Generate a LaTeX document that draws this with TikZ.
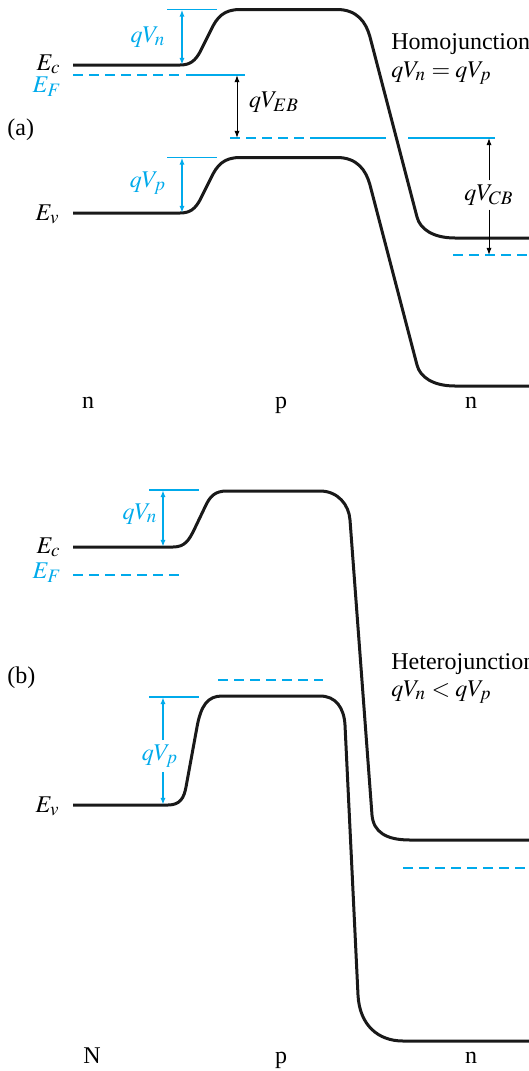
\documentclass[tikz,border=0pt]{standalone}
\usepackage{mathptmx}
\usepackage{fontspec}
\setmainfont{Liberation Serif}
\DeclareMathSizes{12}{12}{9.5}{7.5}
\usetikzlibrary{arrows.meta, positioning}
\definecolor{bandblue}{RGB}{0,170,235}

\begin{document}
\begin{tikzpicture}[x=0.5pt, y=-0.5pt, >={Latex[length=3.6pt,width=2.6pt]}, font=\fontsize{12}{14}\selectfont]
    % Styles for the band diagram
    \tikzstyle{band} = [line width=1.5pt, black!90]
    \tikzstyle{level} = [line width=0.8pt, bandblue]
    \tikzstyle{fermi} = [level, dash pattern=on 5pt off 3pt]
    \tikzstyle{bluearrow} = [<->, line width=0.8pt, bandblue]
    \tikzstyle{blackarrow} = [line width=0.5pt, black]
    \tikzstyle{lbl} = [inner sep=0pt]

    \useasboundingbox (0,0) rectangle (529,1071);

    % (a) Homojunction bands
    \draw[band] (73,65) -- (180,65) .. controls (190,65) and (195,61) .. (200,52) -- (211,30) .. controls (217,17) and (224,9.5) .. (240,9.5) -- (337,9.5) .. controls (357,9.5) and (366,22) .. (370,37) -- (417,217) .. controls (420,229) and (433,238) .. (455,238) -- (529,238);
    \draw[band] (73,213) -- (180,213) .. controls (190,213) and (195,209) .. (200,200) -- (211,178) .. controls (217,165) and (224,157.5) .. (240,157.5) -- (337,157.5) .. controls (357,157.5) and (366,170) .. (370,185) -- (417,365) .. controls (420,377) and (433,386) .. (455,386) -- (529,386);

    % (a) levels
    \draw[level] (167,9.5) -- (217,9.5);
    \draw[fermi] (73,75) -- (180,75);
    \draw[level] (186,75) -- (245,75);
    \draw[fermi] (230,138) -- (305,138);
    \draw[level] (310,138) -- (386,138);
    \draw[level] (408,138) -- (495,138);
    \draw[fermi] (453,255) -- (529,255);
    \draw[level] (167,157.5) -- (217,157.5);

    % (a) labels
    \node[lbl, anchor=base east] (ecA) at (61,70) {$E_c$};
    \node[lbl, anchor=base east, text=bandblue] (efA) at (62,92) {$E_F$};
    \node[lbl, anchor=base west] (labA) at (7,135) {(a)};
    \node[lbl, anchor=base east] (evA) at (60,220) {$E_v$};
    \node[lbl, text=bandblue] (vnA) at (148,37) {$qV_n$};
    \node[lbl, text=bandblue] (vpA) at (148,183) {$qV_p$};
    \node[lbl] (vebA) at (274,102) {$qV_{EB}$};
    \node[lbl, anchor=base west] (homo) at (391,49) {Homojunction};
    \node[lbl, anchor=base west] (homoeq) at (391,77) {$qV_n = qV_p$};
    \node[lbl, inner sep=2pt] (vcbA) at (489,195) {$qV_{CB}$};
    \node[lbl, anchor=base] (nA1) at (88,408) {n};
    \node[lbl, anchor=base] (pA) at (281,408) {p};
    \node[lbl, anchor=base] (nA2) at (471,408) {n};

    % (a) arrows
    \coordinate (vnA top) at (182,9.5);
    \coordinate (vnA bot) at (182,65);
    \coordinate (vpA top) at (182,157.5);
    \coordinate (vpA bot) at (182,213);
    \coordinate (ebA top) at (237,75);
    \coordinate (ebA bot) at (237,138);
    \coordinate (cbA top) at (489,138);
    \coordinate (cbA bot) at (489,255);
    \draw[bluearrow] (vnA top) -- (vnA bot);
    \draw[bluearrow] (vpA top) -- (vpA bot);
    \draw[blackarrow, <->] (ebA top) -- (ebA bot);
    \draw[blackarrow, ->] (vcbA) -- (cbA top);
    \draw[blackarrow, ->] (vcbA) -- (cbA bot);

    % (b) Heterojunction bands
    \draw[band] (73,547) -- (173,547) .. controls (185,547) and (189,540) .. (194,530) -- (205,507) .. controls (210,496) and (215,491) .. (227,491) -- (320,491) .. controls (338,491) and (349,505) .. (350,520) -- (372,815) .. controls (373.5,832) and (386,840) .. (410,840) -- (529,840);
    \draw[band] (73,805) -- (168,805) .. controls (180,805) and (184,798) .. (186,787) -- (197,727) .. controls (201,705) and (208,696) .. (222,696) -- (320,696) .. controls (336,696) and (344,708) .. (345,725) -- (358,995) .. controls (359.5,1025) and (378,1041) .. (403,1041) -- (529,1041);

    % (b) levels
    \draw[level] (149,490) -- (199,490);
    \draw[fermi] (73,575) -- (180,575);
    \draw[fermi] (218,680) -- (323,680);
    \draw[level] (149,697) -- (199,697);
    \draw[fermi] (403,868) -- (529,868);

    % (b) labels
    \node[lbl, anchor=base east] (ecB) at (61,553) {$E_c$};
    \node[lbl, anchor=base east, text=bandblue] (efB) at (62,578) {$E_F$};
    \node[lbl, anchor=base west] (labB) at (7,683) {(b)};
    \node[lbl, anchor=base east] (evB) at (60,812) {$E_v$};
    \node[lbl, text=bandblue] (vnB) at (140,514) {$qV_n$};
    \node[lbl, text=bandblue, inner sep=2pt] (vpB) at (160,756) {$qV_p$};
    \node[lbl, anchor=base west] (hetero) at (391,669) {Heterojunction};
    \node[lbl, anchor=base west] (heteroeq) at (391,696) {$qV_n < qV_p$};
    \node[lbl, anchor=base] (nB1) at (92,1063) {N};
    \node[lbl, anchor=base] (pB) at (281,1063) {p};
    \node[lbl, anchor=base] (nB2) at (471,1063) {n};

    % (b) arrows
    \coordinate (vnB top) at (163,490);
    \coordinate (vnB bot) at (163,547);
    \coordinate (vpB top) at (163,697);
    \coordinate (vpB bot) at (163,805);
    \draw[bluearrow] (vnB top) -- (vnB bot);
    \draw[bluearrow, -{Latex[length=3.6pt,width=2.6pt]}] (vpB top |- vpB.north) -- (vpB top);
    \draw[bluearrow, -{Latex[length=3.6pt,width=2.6pt]}] (vpB bot |- vpB.south) -- (vpB bot);
\end{tikzpicture}
\end{document}
